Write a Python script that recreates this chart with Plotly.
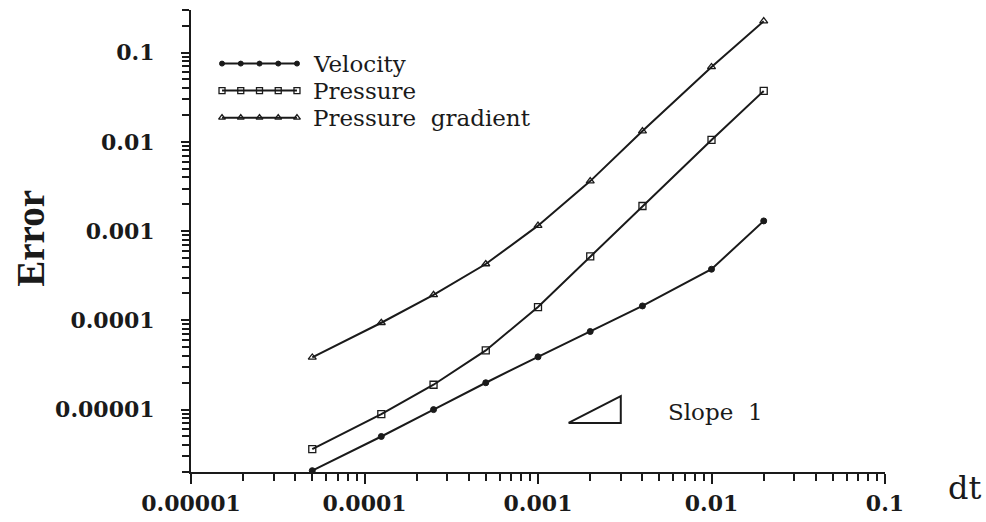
import math
import plotly.graph_objects as go

# ---- data ----
dt = [5e-5, 1.25e-4, 2.5e-4, 5e-4, 1e-3, 2e-3, 4e-3, 1e-2, 2e-2]
velocity = [2.07e-6, 5.0e-6, 1.0e-5, 2.0e-5, 3.9e-5, 7.5e-5, 1.45e-4, 3.74e-4, 1.30e-3]
pressure = [3.6e-6, 8.9e-6, 1.9e-5, 4.6e-5, 1.41e-4, 5.2e-4, 1.91e-3, 1.05e-2, 3.72e-2]
pressure_gradient = [3.84e-5, 9.4e-5, 1.93e-4, 4.28e-4, 1.15e-3, 3.63e-3, 1.32e-2, 6.9e-2, 0.225]

series_names = ["Velocity", "Pressure", "Pressure  gradient"]

x_tick_vals = [1e-5, 1e-4, 1e-3, 1e-2, 1e-1]
x_tick_text = ["0.00001", "0.0001", "0.001", "0.01", "0.1"]
y_tick_vals = [1e-5, 1e-4, 1e-3, 1e-2, 1e-1]
y_tick_text = ["0.00001", "0.0001", "0.001", "0.01", "0.1"]

x_range = [1e-5, 1e-1]
y_range = [2e-6, 0.3]

# slope-1 reference triangle
slope_x = [1.5e-3, 3.0e-3, 3.0e-3, 1.5e-3]
slope_y = [7.1e-6, 7.1e-6, 1.42e-5, 7.1e-6]
slope_label = "Slope  1"

# ---- styles ----
INK = "#1a1a1a"
LEG_FONT = "DejaVu Serif"
YTICK_FONT = dict(family="DejaVu Serif", size=22, color=INK, weight="bold")
XTICK_FONT = dict(family="DejaVu Serif", size=22, color=INK, weight="bold")

styles = [
    dict(symbol="circle", size=6, color=INK, line=dict(color=INK, width=1)),
    dict(symbol="square-open", size=7, color=INK, line=dict(color=INK, width=1.3)),
    dict(symbol="triangle-up-open", size=7, color=INK, line=dict(color=INK, width=1.3)),
]
all_series = [velocity, pressure, pressure_gradient]

fig = go.Figure()
for name, ys, mk in zip(series_names, all_series, styles):
    fig.add_trace(go.Scatter(x=dt, y=ys, mode="lines+markers", name=name,
                             line=dict(color=INK, width=2), marker=mk,
                             showlegend=False))

fig.add_trace(go.Scatter(x=slope_x, y=slope_y, mode="lines",
                         line=dict(color=INK, width=2), showlegend=False))

# ---- custom legend (line with five markers) on an overlay axis ----
leg_y = [0.884, 0.8255, 0.7669]
leg_x0, leg_x1 = 0.0447, 0.1527
for name, mk, yy in zip(series_names, styles, leg_y):
    xs = [leg_x0 + (leg_x1 - leg_x0) * k / 4 for k in range(5)]
    m = dict(mk)
    m["size"] = mk["size"] - 1
    fig.add_trace(go.Scatter(x=xs, y=[yy] * 5, mode="lines+markers",
                             xaxis="x2", yaxis="y2",
                             line=dict(color=INK, width=2), marker=m,
                             showlegend=False, hoverinfo="skip"))
    fig.add_annotation(x=0.173, y=yy, xref="paper", yref="paper", text=name,
                       showarrow=False, xanchor="left", yanchor="middle",
                       font=dict(family=LEG_FONT, size=23, color=INK))

# slope label
fig.add_annotation(x=math.log10(5.5e-3), y=math.log10(9.3e-6), xref="x", yref="y",
                   text=slope_label, showarrow=False, xanchor="left", yanchor="middle",
                   font=dict(family=LEG_FONT, size=23, color=INK))

# axis titles
fig.add_annotation(x=-0.2305, y=0.505, xref="paper", yref="paper", text="Error",
                   textangle=-90, showarrow=False, xanchor="center", yanchor="middle",
                   font=dict(family="Liberation Serif", size=39, color=INK, weight="bold"))
fig.add_annotation(x=1.114, y=-0.035, xref="paper", yref="paper", text="dt",
                   showarrow=False, xanchor="center", yanchor="middle",
                   font=dict(family="DejaVu Serif", size=32, color=INK))


def minors(lo_exp, hi_exp, lo, hi):
    out = []
    for e in range(lo_exp, hi_exp + 1):
        for d in range(2, 10):
            v = d * 10.0 ** e
            if lo <= v <= hi * 1.0001:
                out.append(v)
    return out


fig.update_layout(
    width=986, height=522,
    margin=dict(l=191, r=101, t=10, b=50),
    paper_bgcolor="white", plot_bgcolor="white",
    xaxis=dict(type="log", range=[math.log10(x_range[0]), math.log10(x_range[1])],
               automargin=False,
               showline=True, linecolor=INK, linewidth=2, mirror=False,
               ticks="outside", ticklen=10, tickwidth=2, tickcolor=INK,
               tickvals=x_tick_vals, ticktext=x_tick_text, tickfont=XTICK_FONT,
               ticklabelstandoff=1,
               showgrid=False, zeroline=False,
               minor=dict(ticks="outside", ticklen=7, tickwidth=1.6, tickcolor=INK,
                          tickvals=minors(-5, -2, x_range[0], x_range[1]), showgrid=False)),
    yaxis=dict(type="log", range=[math.log10(y_range[0]), math.log10(y_range[1])],
               automargin=False,
               showline=True, linecolor=INK, linewidth=2, mirror=False,
               ticks="outside", ticklen=8, tickwidth=2, tickcolor=INK,
               tickvals=y_tick_vals, ticktext=y_tick_text, tickfont=YTICK_FONT,
               ticklabelstandoff=22,
               showgrid=False, zeroline=False,
               minor=dict(ticks="outside", ticklen=7, tickwidth=1.6, tickcolor=INK,
                          tickvals=minors(-6, -1, y_range[0], y_range[1]), showgrid=False)),
    xaxis2=dict(overlaying="x", range=[0, 1], visible=False, fixedrange=True),
    yaxis2=dict(overlaying="y", range=[0, 1], visible=False, fixedrange=True),
)

fig.write_html("out.html")
